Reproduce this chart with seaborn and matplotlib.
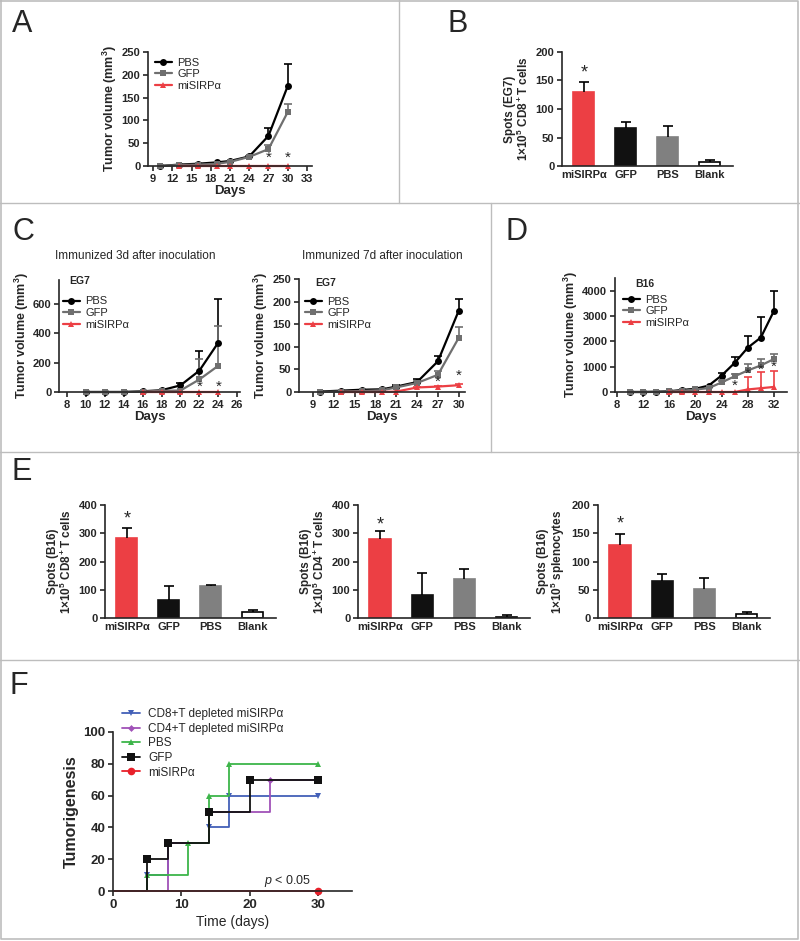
import matplotlib
matplotlib.use('Agg')
import numpy as np
import pandas as pd
import matplotlib.pyplot as plt
import seaborn as sns

sns.set_style('ticks')
plt.rcParams['font.family'] = ['Liberation Sans', 'DejaVu Sans']
plt.rcParams['font.weight'] = 'bold'
plt.rcParams['axes.labelweight'] = 'bold'
plt.rcParams['mathtext.fontset'] = 'custom'
plt.rcParams['mathtext.rm'] = 'Liberation Sans:bold'
plt.rcParams['mathtext.it'] = 'Liberation Sans:style=italic:weight=normal'
plt.rcParams['mathtext.bf'] = 'Liberation Sans:bold'
plt.rcParams['axes.linewidth'] = 1.2

RED = '#EC3F44'
GRAY_LINE = '#6F6F6F'
GRAY_BAR = '#808080'

# ---- panel A: EG7 tumor growth
days_a = [10, 13, 16, 19, 21, 24, 27, 30]
pbs_a = [0, 3, 5, 8, 11, 21, 66, 175]
pbs_a_err = [0, 0, 0, 0, 0, 2, 17, 48]
gfp_a = [0, 2, 3, 5, 9, 20, 37, 118]
gfp_a_err = [0, 0, 0, 0, 0, 2, 10, 17]
days_a_mi = [13, 16, 19, 21, 24, 27, 30]
mi_a = [0, 0, 0, 0, 0, 0, 0]
mi_a_err = [0, 0, 0, 0, 0, 0, 0]
stars_a = [(27, 18), (30, 18)]

# ---- panel B / E: ELISPOT bars
groups = ['miSIRPα', 'GFP', 'PBS', 'Blank']
b_spots = [130, 66, 51, 7]
b_err = [18, 12, 20, 3]
e1_spots = [283, 65, 113, 22]
e1_err = [35, 48, 3, 7]
e2_spots = [280, 80, 137, 5]
e2_err = [28, 80, 38, 6]
e3_spots = [130, 66, 51, 7]
e3_err = [18, 12, 20, 3]

# ---- panel C left: immunized 3d after inoculation
days_c1 = [10, 12, 14, 16, 18, 20, 22, 24]
pbs_c1 = [0, 0, 0, 5, 12, 45, 145, 335]
pbs_c1_err = [0, 0, 0, 0, 0, 15, 130, 295]
gfp_c1 = [0, 0, 0, 3, 8, 10, 85, 178]
gfp_c1_err = [0, 0, 0, 0, 0, 0, 140, 267]
days_c1_mi = [16, 18, 20, 22, 24]
mi_c1 = [0, 0, 0, 0, 0]
mi_c1_err = [0, 0, 0, 0, 0]
stars_c1 = [(22, 36), (24, 36)]

# ---- panel C right: immunized 7d after inoculation
days_c2 = [10, 13, 16, 19, 21, 24, 27, 30]
pbs_c2 = [1, 3, 5, 6, 12, 22, 68, 180]
pbs_c2_err = [0, 0, 0, 0, 3, 6, 12, 26]
gfp_c2 = [0, 1, 2, 4, 10, 20, 38, 120]
gfp_c2_err = [0, 0, 0, 0, 2, 4, 8, 24]
days_c2_mi = [13, 16, 19, 21, 24, 27, 30]
mi_c2 = [0, 0, 0, 1, 10, 12, 15]
mi_c2_err = [0, 0, 0, 0, 2, 2, 2]
stars_c2 = [(27, 22), (30, 35)]

# ---- panel D: B16
days_d = [10, 12, 14, 16, 18, 20, 22, 24, 26, 28, 30, 32]
pbs_d = [0, 0, 10, 30, 80, 130, 250, 650, 1150, 1750, 2150, 3200]
pbs_d_err = [0, 0, 0, 0, 0, 0, 0, 100, 250, 450, 800, 800]
gfp_d = [0, 0, 5, 20, 50, 100, 150, 380, 620, 850, 1050, 1300]
gfp_d_err = [0, 0, 0, 0, 0, 0, 0, 50, 100, 250, 250, 200]
days_d_mi = [16, 18, 20, 22, 24, 26, 28, 30, 32]
mi_d = [0, 0, 0, 0, 0, 0, 100, 150, 200]
mi_d_err = [0, 0, 0, 0, 0, 0, 500, 650, 620]
stars_d = [(26, 240), (28, 730), (30, 860), (32, 990)]

# ---- panel F: tumorigenesis
f_labels = ['CD8+T depleted miSIRPα', 'CD4+T depleted miSIRPα', 'PBS', 'GFP', 'miSIRPα']
f_times = [[0, 5, 8, 14, 17, 30],
           [0, 8, 14, 23, 30],
           [0, 5, 11, 14, 17, 30],
           [0, 5, 8, 14, 20, 30],
           [0, 30]]
f_values = [[0, 10, 30, 40, 60, 60],
            [0, 30, 50, 70, 70],
            [0, 10, 30, 60, 80, 80],
            [0, 20, 30, 50, 70, 70],
            [0, 0]]
f_colors = ['#4360B8', '#A052B8', '#3DB54A', '#111111', '#E8202A']
f_markers = ['v', 'D', '^', 's', 'o']
f_msize = [5, 3.5, 5, 5.5, 5.5]

W, H = 800, 941
fig = plt.figure(figsize=(W / 100, H / 100), dpi=100)


def box(l, t, r, b):
    return [l / W, 1 - b / H, (r - l) / W, (b - t) / H]


def up_err(ax, x, y, e, color, lw=1.2, cap=6):
    x, y, e = np.asarray(x, float), np.asarray(y, float), np.asarray(e, float)
    m = e > 0
    ax.vlines(x[m], y[m], y[m] + e[m], color=color, lw=lw, zorder=1.8, clip_on=False)
    ax.plot(x[m], y[m] + e[m], ls='none', marker='_', ms=cap, mew=lw,
            color=color, zorder=1.8, clip_on=False)


def finish(ax, tick_size=8):
    sns.despine(ax=ax)
    ax.tick_params(direction='out', length=3.5, width=1.2, labelsize=tick_size, pad=2)


def tumor_panel(ax, series, xlim, xticks, ylim, yticks, stars, leg_anchor,
                tag=None, tag_xy=None, ypad=2):
    for label, d, v, e, c, m in series:
        up_err(ax, d, v, e, c)
        sns.lineplot(x=d, y=v, ax=ax, color=c, marker=m, markersize=5,
                     markeredgewidth=0, lw=1.6, label=label, clip_on=False)
    for sx, sy in stars:
        ax.text(sx, sy, '*', ha='center', va='center', fontsize=11,
                fontweight='normal', zorder=6)
    ax.set_xlim(*xlim)
    ax.set_ylim(*ylim)
    ax.set_xticks(xticks)
    ax.set_yticks(yticks)
    ax.set_xlabel('Days', fontsize=9.5, labelpad=1)
    ax.set_ylabel('Tumor volume (mm$^3$)', fontsize=9, labelpad=ypad)
    ax.legend(loc='upper left', bbox_to_anchor=leg_anchor, frameon=False,
              prop={'size': 8, 'weight': 'normal'}, handlelength=1.5,
              handletextpad=0.5, labelspacing=0.15, borderpad=0, borderaxespad=0)
    if tag:
        ax.text(*tag_xy, tag, transform=ax.transAxes, fontsize=7.5, va='center')
    finish(ax)


def series_of(days, pbs, pbs_err, gfp, gfp_err, days_mi, mi, mi_err):
    return [('PBS', days, pbs, pbs_err, 'black', 'o'),
            ('GFP', days, gfp, gfp_err, GRAY_LINE, 's'),
            ('miSIRPα', days_mi, mi, mi_err, RED, '^')]


def bar_panel(ax, spots, errs, ylim, yticks, star_y, ylabel):
    df = pd.DataFrame({'group': groups, 'spots': spots})
    sns.barplot(data=df, x='group', y='spots', hue='group',
                palette=[RED, '#111111', GRAY_BAR, 'white'], legend=False,
                width=0.5, saturation=1, linewidth=1.2, ax=ax)
    for patch, ec in zip(ax.patches, [RED, '#111111', GRAY_BAR, 'black']):
        patch.set_edgecolor(ec)
    up_err(ax, np.arange(len(groups)), spots, errs, 'black', cap=7)
    ax.text(0, star_y, '*', ha='center', va='center', fontsize=13, fontweight='normal')
    ax.set_xlim(-0.52, 3.55)
    ax.set_ylim(*ylim)
    ax.set_yticks(yticks)
    ax.set_xlabel('')
    ax.set_ylabel(ylabel, fontsize=8.5, linespacing=1.05, labelpad=3)
    finish(ax)
    ax.tick_params(axis='x', length=0, labelsize=8, pad=3)


# background: frame lines, panel letters, titles
bg = fig.add_axes([0, 0, 1, 1], zorder=-1)
bg.set_xlim(0, W)
bg.set_ylim(H, 0)
bg.axis('off')
frame = '#BDBDBD'
bg.plot([1, 798, 798, 1, 1], [1, 1, 939, 939, 1], color=frame, lw=1.2)
bg.plot([0, W], [203, 203], color=frame, lw=1)
bg.plot([399, 399], [0, 203], color=frame, lw=1)
bg.plot([491, 491], [203, 452], color=frame, lw=1)
bg.plot([0, W], [452, 452], color=frame, lw=1)
bg.plot([0, W], [660, 660], color=frame, lw=1)
for letter, lx, ly in [('A', 12, 24), ('B', 448, 24), ('C', 13, 232),
                       ('D', 505, 232), ('E', 12, 472), ('F', 10, 686)]:
    bg.text(lx, ly, letter, fontsize=22, fontweight='normal', va='center', ha='left')
bg.text(135, 256, 'Immunized 3d after inoculation', ha='center', va='center',
        fontsize=8.5, fontweight='normal')
bg.text(382, 256, 'Immunized 7d after inoculation', ha='center', va='center',
        fontsize=8.5, fontweight='normal')

# A
ax = fig.add_axes(box(148, 52, 312, 166))
tumor_panel(ax, series_of(days_a, pbs_a, pbs_a_err, gfp_a, gfp_a_err, days_a_mi, mi_a, mi_a_err),
            (8.2, 33.8), range(9, 34, 3), (0, 250), range(0, 251, 50), stars_a, (0.043, 0.95))

# B
ax = fig.add_axes(box(562, 52, 733, 166))
bar_panel(ax, b_spots, b_err, (0, 200), range(0, 201, 50), 163,
          'Spots (EG7)\n1×10$^5$ CD8$^+$T cells')

# C left
ax = fig.add_axes(box(59, 280, 240, 392))
tumor_panel(ax, series_of(days_c1, pbs_c1, pbs_c1_err, gfp_c1, gfp_c1_err, days_c1_mi, mi_c1, mi_c1_err),
            (7.15, 26.3), range(8, 27, 2), (0, 760), range(0, 601, 200), stars_c1, (0.022, 0.853),
            tag='EG7', tag_xy=(0.055, 0.99), ypad=1)

# C right
ax = fig.add_axes(box(299, 279, 465, 392))
tumor_panel(ax, series_of(days_c2, pbs_c2, pbs_c2_err, gfp_c2, gfp_c2_err, days_c2_mi, mi_c2, mi_c2_err),
            (7.0, 30.9), range(9, 31, 3), (0, 250), range(0, 251, 50), stars_c2, (0.036, 0.845),
            tag='EG7', tag_xy=(0.10, 0.965))

# D
ax = fig.add_axes(box(615, 278, 787, 392))
tumor_panel(ax, series_of(days_d, pbs_d, pbs_d_err, gfp_d, gfp_d_err, days_d_mi, mi_d, mi_d_err),
            (7.7, 34.0), range(8, 33, 4), (0, 4500), range(0, 4001, 1000), stars_d, (0.047, 0.855),
            tag='B16', tag_xy=(0.12, 0.947))

# E
ax = fig.add_axes(box(105, 505, 276, 618))
bar_panel(ax, e1_spots, e1_err, (0, 400), range(0, 401, 100), 350,
          'Spots (B16)\n1×10$^5$ CD8$^+$T cells')
ax = fig.add_axes(box(358, 505, 530, 618))
bar_panel(ax, e2_spots, e2_err, (0, 400), range(0, 401, 100), 330,
          'Spots (B16)\n1×10$^5$ CD4$^+$T cells')
ax = fig.add_axes(box(598, 505, 770, 618))
bar_panel(ax, e3_spots, e3_err, (0, 200), range(0, 201, 50), 166,
          'Spots (B16)\n1×10$^5$ splenocytes')

# F
ax = fig.add_axes(box(113, 732, 352, 891))
for lab, t, v, c, m, ms in zip(f_labels, f_times, f_values, f_colors, f_markers, f_msize):
    sns.lineplot(x=t, y=v, ax=ax, color=c, lw=1.3, drawstyle='steps-post',
                 marker=m, markersize=ms, markeredgewidth=0,
                 markevery=list(range(1, len(t))), label=lab, clip_on=False)
ax.text(29, 6, '$\\mathit{p}$ < 0.05', ha='right', va='center', fontsize=9, fontweight='normal')
ax.set_xlim(0, 35)
ax.set_ylim(0, 100)
ax.set_xticks(range(0, 31, 10))
ax.set_yticks(range(0, 101, 20))
ax.set_xlabel('Time (days)', fontsize=10, fontweight='normal', labelpad=3)
ax.set_ylabel('Tumorigenesis', fontsize=11.5, labelpad=3)
ax.legend(loc='upper left', bbox_to_anchor=(0.038, 1.15), frameon=False,
          prop={'size': 8.5, 'weight': 'normal'}, handlelength=1.5,
          handletextpad=0.7, labelspacing=0.22, borderpad=0, borderaxespad=0)
finish(ax, tick_size=9.5)

fig.savefig('out.png', dpi=100)
